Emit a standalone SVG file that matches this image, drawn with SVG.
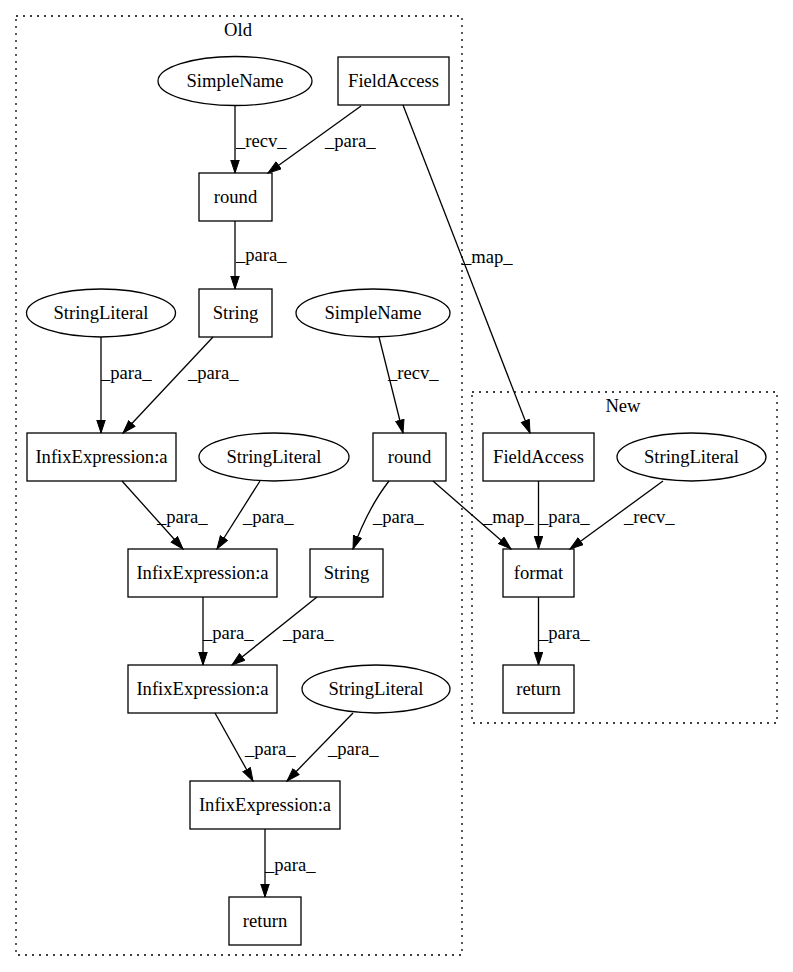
<svg xmlns="http://www.w3.org/2000/svg" width="793" height="972" viewBox="0 0 793 972">
<defs>
<marker id="ah" markerUnits="userSpaceOnUse" markerWidth="15" markerHeight="11" refX="13.5" refY="4.75" orient="auto"><path d="M0.5,0.5 L13.5,4.75 L0.5,9 z" fill="#000" stroke="#000" stroke-width="1"/></marker>
</defs>
<style>
text{font-family:"Liberation Serif","Times New Roman",serif;font-size:18.6px;fill:#000}
.n{text-anchor:middle}
.node rect,.node ellipse{fill:none;stroke:#000;stroke-width:1.3}
.cl{fill:none;stroke:#000;stroke-width:1.3;stroke-dasharray:2,5}
#edges path{fill:none;stroke:#000;stroke-width:1.3;marker-end:url(#ah)}
</style>
<rect width="793" height="972" fill="#fff"/>
<g id="cluster_old"><rect class="cl" x="16" y="16" width="446" height="939"/><text class="n" x="238" y="36">Old</text></g>
<g id="cluster_new"><rect class="cl" x="472" y="392" width="305" height="331"/><text class="n" x="623" y="412">New</text></g>

<g id="sn1" class="node"><ellipse cx="235" cy="81" rx="77" ry="24.5"/><text class="n" x="235" y="87">SimpleName</text></g>
<g id="fa1" class="node"><rect x="338" y="57" width="111" height="48"/><text class="n" x="393.5" y="87">FieldAccess</text></g>
<g id="round1" class="node"><rect x="199" y="173" width="73" height="48"/><text class="n" x="235.5" y="203">round</text></g>
<g id="string1" class="node"><rect x="199" y="289" width="73" height="48"/><text class="n" x="235.5" y="319">String</text></g>
<g id="sl1" class="node"><ellipse cx="101" cy="313" rx="74.5" ry="24"/><text class="n" x="101" y="319">StringLiteral</text></g>
<g id="sn2" class="node"><ellipse cx="373" cy="313" rx="77" ry="24"/><text class="n" x="373" y="319">SimpleName</text></g>
<g id="ie1" class="node"><rect x="27" y="433" width="149" height="48"/><text class="n" x="101.5" y="463">InfixExpression:a</text></g>
<g id="sl2" class="node"><ellipse cx="274" cy="457" rx="75" ry="24"/><text class="n" x="274" y="463">StringLiteral</text></g>
<g id="round2" class="node"><rect x="373" y="433" width="73" height="48"/><text class="n" x="409.5" y="463">round</text></g>
<g id="ie2" class="node"><rect x="128" y="549" width="149" height="48"/><text class="n" x="202.5" y="579">InfixExpression:a</text></g>
<g id="string2" class="node"><rect x="310" y="549" width="73" height="48"/><text class="n" x="346.5" y="579">String</text></g>
<g id="ie3" class="node"><rect x="128" y="665" width="149" height="48"/><text class="n" x="202.5" y="695">InfixExpression:a</text></g>
<g id="sl3" class="node"><ellipse cx="376" cy="689" rx="74" ry="24"/><text class="n" x="376" y="695">StringLiteral</text></g>
<g id="ie4" class="node"><rect x="190" y="781" width="150" height="48"/><text class="n" x="265" y="811">InfixExpression:a</text></g>
<g id="return1" class="node"><rect x="229" y="897" width="72" height="48"/><text class="n" x="265" y="927">return</text></g>

<g id="fa2" class="node"><rect x="483" y="433" width="111" height="48"/><text class="n" x="538.5" y="463">FieldAccess</text></g>
<g id="sl4" class="node"><ellipse cx="691.5" cy="457" rx="74.5" ry="24"/><text class="n" x="691.5" y="463">StringLiteral</text></g>
<g id="format" class="node"><rect x="503" y="549" width="71" height="48"/><text class="n" x="538.5" y="579">format</text></g>
<g id="return2" class="node"><rect x="503" y="665" width="71" height="48"/><text class="n" x="538.5" y="695">return</text></g>

<g id="edges">
<path d="M235,106 L235,173"/><text x="236" y="147">_recv_</text>
<path d="M361,106 L268,173"/><text x="325" y="147">_para_</text>
<path d="M403,105 L530,433"/><text x="462" y="263">_map_</text>
<path d="M235,221 L235,289"/><text x="236" y="261">_para_</text>
<path d="M101,337 L101,433"/><text x="101" y="379">_para_</text>
<path d="M213,337 L123,433"/><text x="188" y="379">_para_</text>
<path d="M379,337 L403,433"/><text x="388" y="379">_recv_</text>
<path d="M122,481 L183,549"/><text x="157" y="523">_para_</text>
<path d="M260,481 L217,549"/><text x="243" y="523">_para_</text>
<path d="M389,481 Q368,508 353,549"/><text x="373" y="523">_para_</text>
<path d="M433,481 L511,549"/><text x="483" y="523">_map_</text>
<path d="M538.5,481 L538.5,549"/><text x="539" y="523">_para_</text>
<path d="M663,481 L570,549"/><text x="624" y="523">_recv_</text>
<path d="M538.5,597 L538.5,665"/><text x="539" y="639">_para_</text>
<path d="M203,597 L203,665"/><text x="203" y="639">_para_</text>
<path d="M317,597 L232,665"/><text x="283" y="639">_para_</text>
<path d="M215,713 L253,781"/><text x="245" y="755">_para_</text>
<path d="M353,713 L287,781"/><text x="328" y="755">_para_</text>
<path d="M265,829 L265,897"/><text x="265" y="871">_para_</text>
</g>
</svg>
